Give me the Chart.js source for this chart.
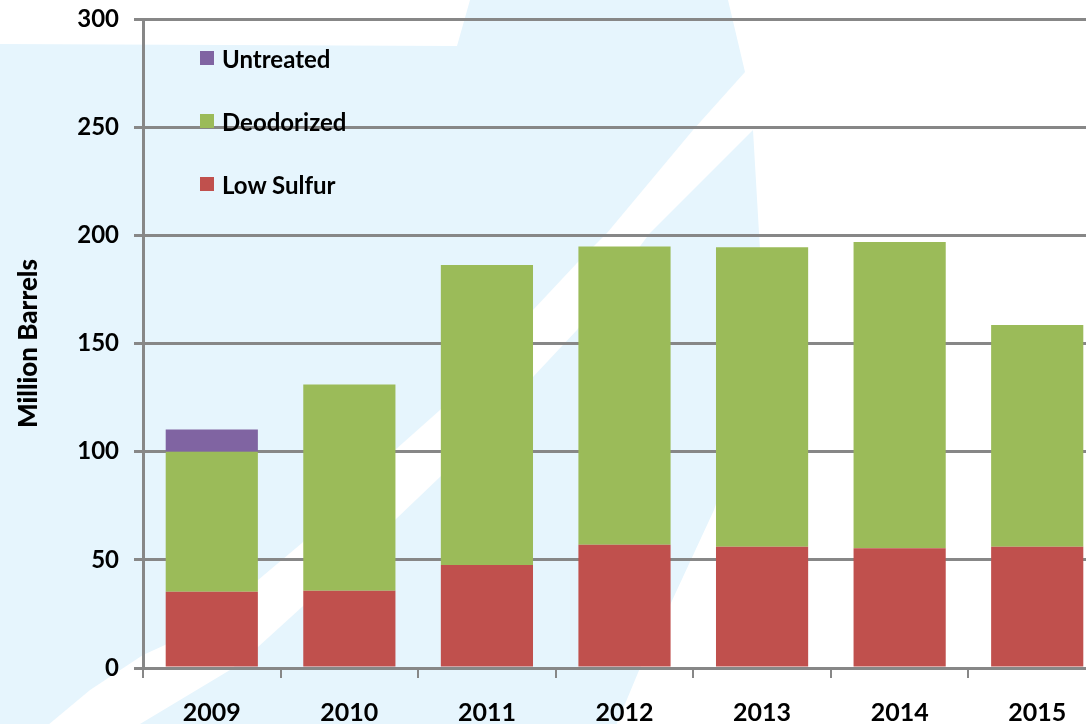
<!DOCTYPE html>
<html>
<head>
<meta charset="utf-8">
<script src="https://cdn.jsdelivr.net/npm/chart.js@4.4.1/dist/chart.umd.min.js"></script>
<style>
  body {
    margin: 0;
    overflow: hidden;
    background: #fff;
    font-family: Lato, "Open Sans", sans-serif;
  }
  .chartbox {
    position: relative;
    width: 1106px;
    height: 740px;
  }
  #customLegend {
    position: absolute;
    left: 200px;
    top: 43px;
  }
  #customLegend ul {
    list-style: none;
    margin: 0;
    padding: 0;
  }
  #customLegend li {
    display: flex;
    align-items: center;
    height: 30px;
    margin-bottom: 33px;
  }
  #customLegend li span {
    display: inline-block;
    width: 14px;
    height: 14px;
    margin-right: 8px;
  }
  #customLegend li p {
    margin: 0;
    font-size: 24px;
    font-weight: bold;
    color: #000;
  }
</style>
</head>
<body>
<div class="chartbox">
  <canvas id="myChart" width="1106" height="740"></canvas>
</div>
<script>
const years = ["2009", "2010", "2011", "2012", "2013", "2014", "2015"];
const lowSulfur = [35.3, 35.7, 47.6, 57.0, 56.1, 55.3, 56.1];
const deodorized = [64.7, 95.4, 138.7, 137.8, 138.4, 141.6, 102.5];
const untreated = [10.3, 0, 0, 0, 0, 0, 0];
const yTicks = [0, 50, 100, 150, 200, 250, 300];

const gray = "#878787";
const tickFont = { family: "Lato", size: 24, weight: "bold" };

// light blue logo shape behind the plot
const backdrop = {
  id: "backdrop",
  beforeDraw(chart) {
    const ctx = chart.ctx;
    ctx.save();
    ctx.fillStyle = "#e6f5fd";
    ctx.beginPath();
    [[0, 44], [457, 46], [470, 0], [728, 0], [745, 72], [753, 130],
     [760, 250], [755, 350], [740, 430], [714, 510], [670, 605],
     [640, 668], [610, 740], [0, 740]].forEach((p, i) => {
      i ? ctx.lineTo(p[0], p[1]) : ctx.moveTo(p[0], p[1]);
    });
    ctx.closePath();
    ctx.fill();

    ctx.fillStyle = "#fff";
    ctx.beginPath();
    [[780, 55], [745, 72], [693, 130], [607, 233], [577, 263], [533, 310],
     [440, 410], [395, 450], [302, 543], [258, 580], [165, 645],
     [143, 655], [90, 690], [30, 740], [115, 740], [140, 724], [230, 670],
     [258, 647], [302, 607], [395, 520], [440, 477], [533, 377],
     [577, 330], [650, 233], [753, 130], [790, 95]].forEach((p, i) => {
      i ? ctx.lineTo(p[0], p[1]) : ctx.moveTo(p[0], p[1]);
    });
    ctx.closePath();
    ctx.fill();
    ctx.restore();
  },
};

const myChart = new Chart(document.getElementById("myChart"), {
  type: "bar",
  data: {
    labels: years,
    datasets: [
      { label: "Low Sulfur", data: lowSulfur, backgroundColor: "#c0504d" },
      { label: "Deodorized", data: deodorized, backgroundColor: "#9bbb59" },
      { label: "Untreated", data: untreated, backgroundColor: "#8064a2" },
    ],
  },
  options: {
    responsive: false,
    animation: false,
    devicePixelRatio: 1,
    layout: { padding: { top: 19, right: 0, left: 0, bottom: 0 } },
    datasets: {
      bar: { categoryPercentage: 1, barPercentage: 0.67 },
    },
    plugins: {
      legend: { display: false },
      tooltip: { enabled: false },
    },
    scales: {
      x: {
        stacked: true,
        grid: {
          offset: true,
          drawOnChartArea: false,
          color: gray,
          lineWidth: 2,
          tickLength: 10,
        },
        border: { color: gray, width: 3 },
        ticks: { color: "#000", font: { ...tickFont, size: 25 }, padding: 20 },
        afterFit(scale) {
          scale.height = 72;
          scale.paddingLeft = 0;
          scale.paddingRight = 0;
        },
      },
      y: {
        stacked: true,
        min: 0,
        max: 300,
        afterBuildTicks(scale) {
          scale.ticks = yTicks.map((v) => ({ value: v }));
        },
        grid: { color: gray, lineWidth: 3, tickLength: 9 },
        border: { color: gray, width: 3 },
        ticks: { color: "#000", font: tickFont, padding: 15 },
        title: {
          display: true,
          text: "Million Barrels",
          color: "#000",
          font: { family: "Lato", size: 26, weight: "900" },
          padding: { top: 13, bottom: 0 },
        },
        afterFit(scale) {
          scale.width = 143;
          scale.paddingTop = 0;
          scale.paddingBottom = 0;
        },
      },
    },
  },
  plugins: [backdrop],
});

function generateLegend() {
  const chartbox = document.querySelector(".chartbox");
  const div = document.createElement("DIV");
  div.setAttribute("id", "customLegend");
  const ul = document.createElement("UL");

  myChart.data.datasets
    .slice()
    .reverse()
    .forEach((dataset) => {
      const li = document.createElement("LI");
      const spanbox = document.createElement("SPAN");
      spanbox.style.backgroundColor = dataset.backgroundColor;
      const p = document.createElement("P");
      p.appendChild(document.createTextNode(dataset.label));
      li.appendChild(spanbox);
      li.appendChild(p);
      ul.appendChild(li);
    });

  div.appendChild(ul);
  chartbox.appendChild(div);
}

generateLegend();
</script>
</body>
</html>
